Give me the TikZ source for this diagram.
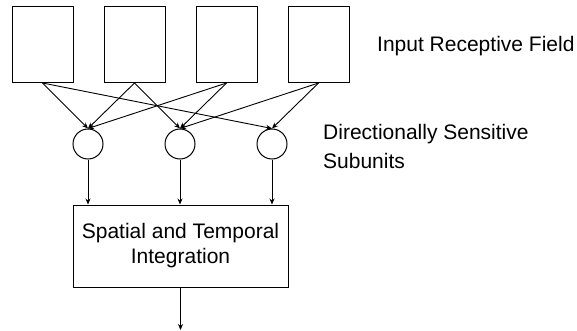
\documentclass[tikz,border=0pt]{standalone}
\usepackage{fontspec}
\setmainfont{Liberation Sans}
\usetikzlibrary{arrows.meta}
\begin{document}
\begin{tikzpicture}[x=1pt,y=-1pt,
  every node/.style={inner sep=0pt},
  rfbox/.style={draw,line width=1pt,minimum width=61pt,minimum height=76pt},
  sub/.style={draw,circle,line width=1pt,minimum size=30pt},
  integ/.style={draw,line width=1pt,minimum width=215pt,minimum height=82pt,align=center,font=\fontsize{21}{25}\selectfont},
  lbl/.style={font=\fontsize{21}{29}\selectfont,align=left},
  conn/.style={line width=0.9pt,-{Stealth[length=6pt,width=5pt]}}]
\useasboundingbox (0,0) rectangle (577,331);
\node[rfbox] (b1) at (42.5,44.5) {};
\node[rfbox] (b2) at (134.5,44.5) {};
\node[rfbox] (b3) at (226.5,44.5) {};
\node[rfbox] (b4) at (318.5,44.5) {};
\node[sub] (c1) at (88,144) {};
\node[sub] (c2) at (180,144) {};
\node[sub] (c3) at (272,144) {};
\node[integ] (int) at (180.5,246) {\raisebox{-2pt}{Spatial and Temporal}\\\raisebox{-2pt}{Integration}};
\coordinate (out) at (180.5,330);
\node[lbl,anchor=base west] (t1) at (377,52) {Input Receptive Field};
\node[lbl,anchor=base west] (t2) at (323,168) {Directionally Sensitive\\Subunits};
\draw[conn] (b1.south) -- (c1.north);
\draw[conn] (b1.south) -- (c3.north);
\draw[conn] (b2.south) -- (c1.north);
\draw[conn] (b2.south) -- (c2.north);
\draw[conn] (b3.south) -- (c1.north);
\draw[conn] (b3.south) -- (c2.north);
\draw[conn] (b4.south) -- (c2.north);
\draw[conn] (b4.south) -- (c3.north);
\draw[conn] (c1.south) -- (c1.south |- int.north);
\draw[conn] (c2.south) -- (c2.south |- int.north);
\draw[conn] (c3.south) -- (c3.south |- int.north);
\draw[conn] (int.south) -- (out);
\end{tikzpicture}
\end{document}
